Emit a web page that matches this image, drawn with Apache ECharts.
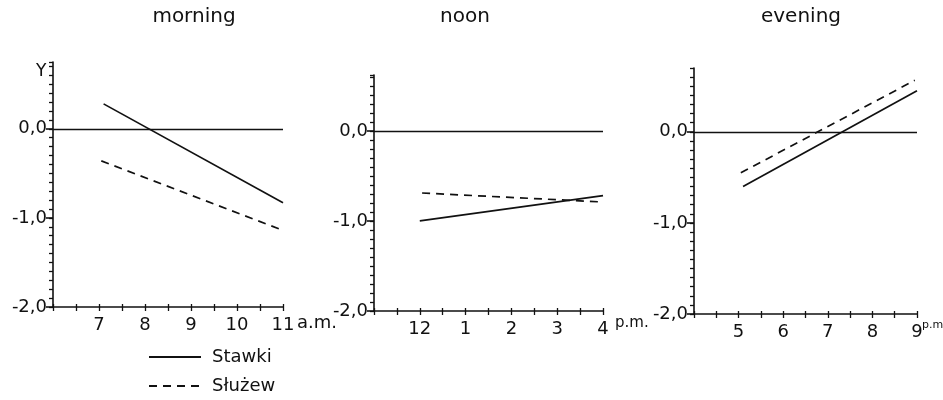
<!DOCTYPE html>
<html><head><meta charset="utf-8">
<script src="https://cdn.jsdelivr.net/npm/echarts@6/dist/echarts.min.js"></script>
<style>html,body{margin:0;padding:0;background:#fff}#c{width:943px;height:400px}</style>
</head><body><div id="c"></div>
<script>
// Panel titles
var panelTitles = ['morning', 'noon', 'evening'];
// X tick values (hours) and their labels
var morningHours = [7, 8, 9, 10, 11];
var morningLabels = ['7', '8', '9', '10', '11'];
var noonHours = [12, 13, 14, 15, 16];
var noonLabels = ['12', '1', '2', '3', '4'];
var eveningHours = [5, 6, 7, 8, 9];
var eveningLabels = ['5', '6', '7', '8', '9'];
// Y tick values
var yTicks = [-2, -1, 0];
// Series (regression line endpoints) [hour, Y]
var morningStawki = [[7.1, 0.28], [11, -0.83]];
var morningSluzew = [[7.05, -0.36], [10.95, -1.13]];
var noonStawki = [[12, -1.0], [16, -0.72]];
var noonSluzew = [[12.05, -0.69], [16, -0.79]];
var eveningStawki = [[5.1, -0.6], [9, 0.45]];
var eveningSluzew = [[5.05, -0.45], [8.95, 0.565]];

var FONT = 'DejaVu Sans';
var panels = [
  {grid: {left: 53, top: 62, width: 230, height: 245}, titleX: 189, xmin: 6, xmax: 11, ymax: 0.75, hours: morningHours, labels: morningLabels, s: morningStawki, d: morningSluzew},
  {grid: {left: 374, top: 75, width: 229, height: 236}, titleX: 460, xmin: 11, xmax: 16, ymax: 0.62, hours: noonHours, labels: noonLabels, s: noonStawki, d: noonSluzew},
  {grid: {left: 694, top: 68, width: 223, height: 246}, titleX: 796, xmin: 4, xmax: 9, ymax: 0.70, hours: eveningHours, labels: eveningLabels, s: eveningStawki, d: eveningSluzew}
];

var grids = [], xAxes = [], yAxes = [], series = [], titles = [];
panels.forEach(function (p, i) {
  grids.push(p.grid);
  titles.push({text: panelTitles[i], left: p.titleX, top: 2, textAlign: 'center',
    textStyle: {fontFamily: FONT, fontSize: 20, fontWeight: 'normal', color: '#111'}});
  xAxes.push({type: 'value', gridIndex: i, min: p.xmin, max: p.xmax, interval: 0.5,
    axisLine: {onZero: false, lineStyle: {color: '#111', width: 1.6}},
    axisTick: {show: true, length: 4, lineStyle: {color: '#111', width: 1.3}},
    splitLine: {show: false},
    axisLabel: {margin: 9, fontFamily: FONT, fontSize: 18, color: '#111', customValues: p.hours,
      formatter: (function (hrs, lbl) { return function (v) { var k = hrs.indexOf(Math.round(v * 100) / 100); return k >= 0 ? lbl[k] : ''; }; })(p.hours, p.labels)}});
  yAxes.push({type: 'value', gridIndex: i, position: 'left', min: -2, max: p.ymax, interval: 0.1,
    axisLine: {show: true, onZero: false, lineStyle: {color: '#111', width: 1.6}},
    axisTick: {show: true, length: 4, lineStyle: {color: '#111', width: 1.3}},
    axisLabel: {show: false}, splitLine: {show: false}});
  yAxes.push({type: 'value', gridIndex: i, position: 'left', min: -2, max: p.ymax, interval: 1,
    axisLine: {show: false, onZero: false},
    axisTick: {show: true, length: 7, customValues: yTicks, lineStyle: {color: '#111', width: 1.6}},
    splitLine: {show: false},
    axisLabel: {margin: 6, fontFamily: FONT, fontSize: 18, color: '#111', customValues: yTicks,
      formatter: function (v) { return Number(v).toFixed(1).replace('.', ','); }}});
  series.push({name: 'Stawki', type: 'line', xAxisIndex: i, yAxisIndex: 2 * i + 1, data: p.s, symbol: 'none',
    lineStyle: {color: '#111', width: 1.7, type: 'solid'}, itemStyle: {color: '#111'},
    markLine: {silent: true, symbol: 'none', label: {show: false}, data: [{yAxis: 0}],
      lineStyle: {color: '#111', width: 1.4, type: 'solid'}}});
  series.push({name: 'Służew', type: 'line', xAxisIndex: i, yAxisIndex: 2 * i + 1, data: p.d, symbol: 'none',
    lineStyle: {color: '#111', width: 1.7, type: [8, 6]}, itemStyle: {color: '#111'}});
});
// inward tick halves on the x axes (ticks cross the axis line in the reference)
panels.forEach(function (p, i) {
  xAxes.push({type: 'value', gridIndex: i, position: 'bottom', min: p.xmin, max: p.xmax, interval: 0.5,
    axisLine: {show: false, onZero: false}, axisLabel: {show: false}, splitLine: {show: false},
    axisTick: {show: true, inside: true, length: 3, lineStyle: {color: '#111', width: 1.3}}});
});

var legendBase = {left: 143, itemWidth: 52, itemHeight: 14, itemStyle: {opacity: 0},
  textStyle: {fontFamily: FONT, fontSize: 18, color: '#111', padding: [0, 0, 0, 6]}};

var chart = echarts.init(document.getElementById('c'), null, {renderer: 'canvas'});
chart.setOption({
  animation: false,
  backgroundColor: '#fff',
  title: titles,
  grid: grids,
  xAxis: xAxes,
  yAxis: yAxes,
  series: series,
  legend: [
    Object.assign({}, legendBase, {top: 343, data: ['Stawki']}),
    Object.assign({}, legendBase, {top: 372, data: ['Służew']})
  ],
  graphic: [
    {type: 'text', left: 36, top: 63, style: {text: 'Y', fontFamily: FONT, fontSize: 17, fill: '#111'}},
    {type: 'text', left: 297, top: 314, style: {text: 'a.m.', fontFamily: FONT, fontSize: 18, fill: '#111'}},
    {type: 'text', left: 615, top: 316, style: {text: 'p.m.', fontFamily: FONT, fontSize: 15, fill: '#111'}},
    {type: 'text', left: 922, top: 320, style: {text: 'p.m', fontFamily: FONT, fontSize: 11, fill: '#111'}}
  ]
});
</script></body></html>
